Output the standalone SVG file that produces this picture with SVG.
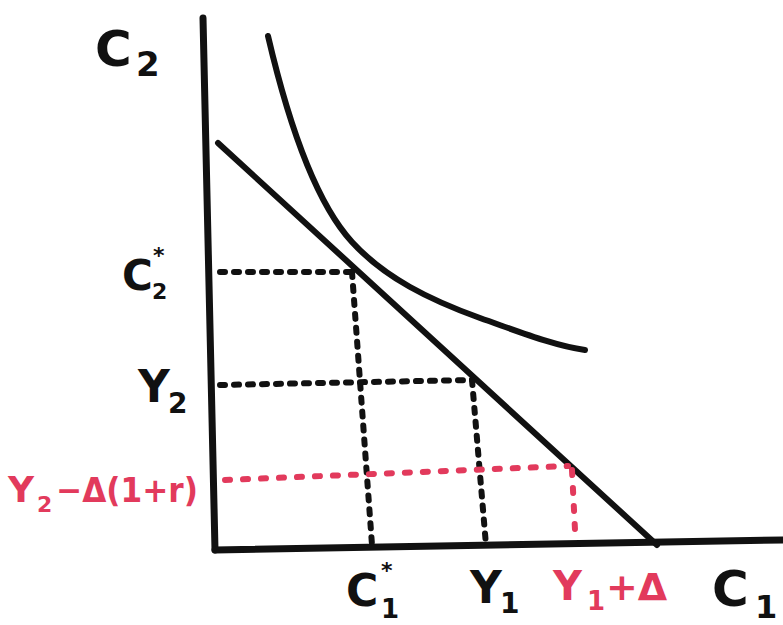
<svg xmlns="http://www.w3.org/2000/svg" width="783" height="625" viewBox="0 0 783 625">
<style>
.ax{stroke:#111;stroke-width:7;fill:none;stroke-linecap:round}
.ln{stroke:#111;stroke-width:6;fill:none;stroke-linecap:round}
.dot{stroke:#111;stroke-width:6;fill:none;stroke-linecap:round;stroke-dasharray:5 9}
.rdot{stroke:#e23a5c;stroke-width:6;fill:none;stroke-linecap:round;stroke-dasharray:5 13}
.t{font-family:"DejaVu Sans",sans-serif;font-weight:bold;fill:#111}
.r{fill:#e23a5c}
</style>
<rect width="783" height="625" fill="#fff"/>
<g id="axes">
<path class="ax" d="M203,18 L215,550"/>
<path class="ax" d="M215,550 L783,540"/>
</g>
<g id="connectors">
<path id="budget" class="ln" d="M218,143 L657,545"/>
<path id="indiff" class="ln" d="M268,36 C290,130 318,205 352,242 C385,278 430,300 480,318 C520,332 555,346 585,350"/>
<path class="dot" d="M220,272 L352,272"/>
<path class="dot" d="M352,272 L372,545"/>
<path class="dot" d="M220,385 L472,380"/>
<path class="dot" d="M472,380 L486,545"/>
<path class="rdot" d="M225,480 L568,466"/>
<path class="rdot" d="M572,470 L575,530"/>
</g>
<g id="label-c2">
<text class="t" x="95" y="66" font-size="50">C</text>
<text class="t" x="136" y="76" font-size="34">2</text>
</g>
<g id="label-c2star">
<text class="t" x="122" y="290" font-size="42">C</text>
<text class="t" x="153" y="263" font-size="22">*</text>
<text class="t" x="152" y="299" font-size="22">2</text>
</g>
<g id="label-y2">
<text class="t" x="138" y="402" font-size="44">Y</text>
<text class="t" x="168" y="413" font-size="28">2</text>
</g>
<g id="label-y2-delta">
<text class="t r" x="8" y="502" font-size="36">Y</text>
<text class="t r" x="37" y="512" font-size="22">2</text>
<text class="t r" x="56" y="502" font-size="34" textLength="142" lengthAdjust="spacingAndGlyphs">−Δ(1+r)</text>
</g>
<g id="label-c1star">
<text class="t" x="346" y="606" font-size="44">C</text>
<text class="t" x="381" y="578" font-size="22">*</text>
<text class="t" x="381" y="618" font-size="26">1</text>
</g>
<g id="label-y1">
<text class="t" x="470" y="603" font-size="44">Y</text>
<text class="t" x="500" y="613" font-size="28">1</text>
</g>
<g id="label-y1-delta">
<text class="t r" x="553" y="600" font-size="40">Y</text>
<text class="t r" x="587" y="610" font-size="26">1</text>
<text class="t r" x="606" y="600" font-size="38">+Δ</text>
</g>
<g id="label-c1">
<text class="t" x="712" y="606" font-size="50">C</text>
<text class="t" x="755" y="618" font-size="32">1</text>
</g>
</svg>
